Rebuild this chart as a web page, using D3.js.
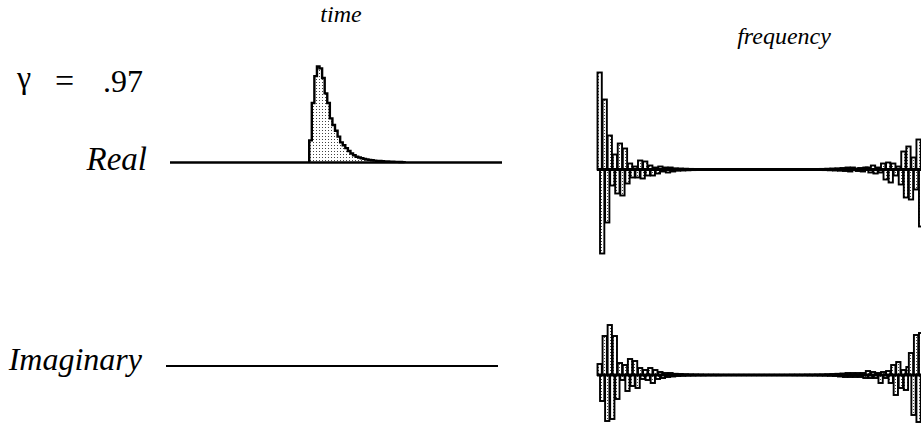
<!DOCTYPE html>
<html>
<head>
<meta charset="utf-8">
<script src="https://cdn.jsdelivr.net/npm/d3@7"></script>
</head>
<body style="margin:0">
<div id="wrap" style="position:relative;width:921px;height:424px;background:#fff;">
<svg id="chart" width="921" height="424" style="position:absolute;left:0;top:0;"></svg>
</div>
<script>
// ---------- DATA ----------
const panelTitles = ["time", "frequency"];
const rowLabels = ["Real", "Imaginary"];
const gammaParts = ["\u03b3", "=", ".97"];

// time domain: 128 samples, real part non-zero from index timeStart on (peak = 1)
const nSamples = 128;
const timeStart = 54;
const timeReal = [
  0.23, 0.62, 0.90, 1.00, 0.98, 0.88, 0.72, 0.62, 0.46, 0.39,
  0.33, 0.27, 0.21, 0.18, 0.15, 0.12, 0.094, 0.075, 0.06, 0.052,
  0.045, 0.038, 0.031, 0.027, 0.023, 0.02, 0.017, 0.015, 0.013, 0.011,
  0.01, 0.009, 0.008, 0.007, 0.006, 0.005, 0.004
];
// imaginary part of the time signal is zero everywhere (drawn as its axis line)

// frequency domain: 128 bins
const freqReal = [
  0.97, -0.84, 0.70, -0.53, 0.34, -0.16, 0.15, -0.24, 0.26, -0.26,
  0.21, -0.14, 0.06, -0.08, 0.03, -0.08, 0.09, -0.09, 0.08, -0.06,
  0.04, -0.06, 0.02, -0.04, 0.03, -0.02, 0.02, -0.03, 0.02, -0.02,
  0.012, -0.012, 0.01, -0.01, 0.008, -0.008, 0.006, -0.006, 0.005, -0.005,
  0.004, -0.004, 0.004, -0.004, 0.003, -0.003, 0.003, -0.003, 0.003, -0.003,
  0.002, -0.002, 0.002, -0.002, 0.002, -0.002, 0.002, -0.002, 0.002, -0.002,
  0.002, -0.002, 0.002, -0.002, 0.002, -0.002, 0.002, -0.002, 0.002, -0.002,
  0.002, -0.002, 0.002, -0.002, 0.002, -0.002, 0.003, -0.003, 0.003, -0.003,
  0.003, -0.003, 0.004, -0.004, 0.004, -0.004, 0.005, -0.005, 0.006, -0.006,
  0.008, -0.008, 0.01, -0.01, 0.012, -0.012, 0.015, -0.015, 0.02, -0.02,
  0.02, 0.01, -0.015, 0.015, -0.02, 0.02, 0.02, -0.03, 0.04, -0.04,
  0.02, -0.03, 0.06, -0.10, 0.07, -0.13, 0.06, -0.06, 0.03, -0.15,
  0.18, -0.28, 0.23, -0.30, 0.12, -0.20, 0.30, -0.57
];
const freqImag = [
  0.11, -0.26, 0.39, -0.46, 0.50, -0.44, 0.39, -0.24, 0.12, -0.05,
  0.10, -0.16, 0.16, -0.11, 0.14, -0.13, 0.07, -0.04, 0.05, -0.05,
  0.07, -0.08, 0.05, -0.04, 0.03, -0.03, 0.02, -0.02, 0.02, -0.015,
  0.012, -0.01, 0.01, -0.008, 0.008, -0.006, 0.006, -0.005, 0.005, -0.004,
  0.004, -0.004, 0.003, -0.003, 0.003, -0.003, 0.003, -0.003, 0.002, -0.002,
  0.002, -0.002, 0.002, -0.002, 0.002, -0.002, 0.002, -0.002, 0.002, -0.002,
  0.002, -0.002, 0.002, -0.002, 0.002, -0.002, 0.002, -0.002, 0.002, -0.002,
  0.002, -0.002, 0.002, -0.002, 0.002, -0.002, 0.003, -0.003, 0.003, -0.003,
  0.003, -0.003, 0.004, -0.004, 0.004, -0.004, 0.005, -0.005, 0.006, -0.006,
  0.008, -0.008, 0.01, -0.01, 0.012, -0.015, 0.015, -0.02, 0.02, -0.02,
  0.02, -0.02, 0.02, -0.02, 0.02, -0.03, 0.04, -0.03, 0.03, -0.03,
  0.02, -0.08, 0.03, -0.03, 0.04, -0.08, 0.10, -0.20, 0.13, -0.13,
  0.05, -0.15, 0.08, 0.22, -0.40, 0.40, -0.47, 0.42
];

// ---------- DRAW ----------
const svg = d3.select("#chart");
const wrap = d3.select("#wrap");

// text labels as positioned HTML text (serif face)
const labels = [
  { x: 341, y: 22, size: 24, italic: true, anchor: "middle", str: panelTitles[0] },
  { x: 784, y: 44, size: 24, italic: true, anchor: "middle", str: panelTitles[1] },
  { x: 17, y: 88, size: 32, italic: false, anchor: "start", str: gammaParts[0] },
  { x: 55, y: 92, size: 34, italic: false, anchor: "start", str: gammaParts[1] },
  { x: 103, y: 92, size: 32, italic: false, anchor: "start", str: gammaParts[2] },
  { x: 147, y: 171, size: 33, italic: true, anchor: "end", str: rowLabels[0] },
  { x: 142, y: 370, size: 32, italic: true, anchor: "end", str: rowLabels[1] }
];
const shift = { start: "0", middle: "-50%", end: "-100%" };
labels.forEach(l => {
  wrap.append("div")
    .style("position", "absolute")
    .style("left", l.x + "px")
    .style("top", (l.y - 0.8375 * l.size) + "px")
    .style("transform", "translateX(" + shift[l.anchor] + ")")
    .style("font-family", "'Liberation Serif', 'Times New Roman', serif")
    .style("font-size", l.size + "px")
    .style("line-height", l.size + "px")
    .style("font-style", l.italic ? "italic" : "normal")
    .style("white-space", "nowrap")
    .style("color", "#000")
    .text(l.str);
});

const defs = svg.append("defs");
const pat = defs.append("pattern")
  .attr("id", "stipple").attr("patternUnits", "userSpaceOnUse")
  .attr("width", 3).attr("height", 3);
pat.append("rect").attr("width", 3).attr("height", 3).attr("fill", "#fff");
pat.append("rect").attr("x", 1).attr("y", 1).attr("width", 1).attr("height", 1).attr("fill", "#444");

// scales
const xT = d3.scaleLinear().domain([0, nSamples]).range([170, 500]);
const yTReal = d3.scaleLinear().domain([0, 1]).range([162.5, 66.5]);
const yTImagBase = 366;
const xF = d3.scaleLinear().domain([0, 128]).range([598, 922]);
const yFReal = d3.scaleLinear().domain([-1, 1]).range([269.5, 69.5]);
const yFImag = d3.scaleLinear().domain([-1, 1]).range([475, 275]);

// time, real: step pulse
const pts = [];
pts.push([timeStart, 0]);
timeReal.forEach((v, i) => pts.push([timeStart + i, v]));
pts.push([timeStart + timeReal.length, 0]);
const area = d3.area().x(d => xT(d[0])).y0(yTReal(0)).y1(d => yTReal(d[1])).curve(d3.curveStepAfter);
const line = d3.line().x(d => xT(d[0])).y(d => yTReal(d[1])).curve(d3.curveStepAfter);
svg.append("path").datum(pts).attr("d", area).attr("fill", "url(#stipple)");
svg.append("path").datum(pts).attr("d", line).attr("fill", "none")
  .attr("stroke", "#000").attr("stroke-width", 2.4).attr("stroke-linejoin", "miter");
svg.append("line").attr("x1", xT(0)).attr("x2", xT(nSamples) + 2)
  .attr("y1", yTReal(0)).attr("y2", yTReal(0)).attr("stroke", "#000").attr("stroke-width", 2.4);

// time, imaginary: zero line
svg.append("line").attr("x1", xT(0) - 4).attr("x2", xT(nSamples) - 2)
  .attr("y1", yTImagBase).attr("y2", yTImagBase).attr("stroke", "#000").attr("stroke-width", 2);

// frequency bars
const step = xF(1) - xF(0);
function drawBars(values, y) {
  const g = svg.append("g");
  g.selectAll("rect").data(values).join("rect")
    .attr("x", (d, i) => xF(i) - 0.5)
    .attr("width", step * 1.7)
    .attr("y", d => Math.min(y(d), y(0)))
    .attr("height", d => Math.abs(y(d) - y(0)))
    .attr("fill", "url(#stipple)")
    .attr("stroke", "#000").attr("stroke-width", 1.9);
  g.append("line").attr("x1", xF(0) - 1).attr("x2", 921)
    .attr("y1", y(0)).attr("y2", y(0)).attr("stroke", "#000").attr("stroke-width", 3);
}
drawBars(freqReal, yFReal);
drawBars(freqImag, yFImag);
</script>
</body>
</html>
